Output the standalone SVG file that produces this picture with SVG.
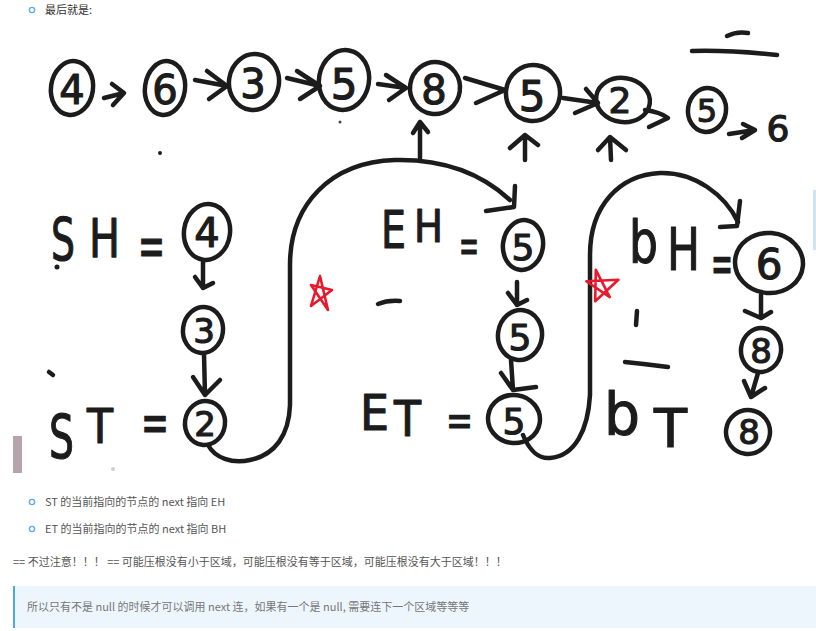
<svg xmlns="http://www.w3.org/2000/svg" width="816" height="631" viewBox="0 0 816 631">
<style>
.ui{font-family:"Noto Sans CJK SC","Noto Sans",sans-serif;font-size:11px}
.hw{font-family:"DejaVu Sans",sans-serif;fill:#1c1c1c;stroke:#1c1c1c;stroke-width:1.2;stroke-linejoin:round}
.dg{text-anchor:middle;dominant-baseline:central}
.ink{fill:none;stroke:#1c1c1c;stroke-width:4.5;stroke-linecap:round;stroke-linejoin:round}
.ring{fill:none;stroke:#1c1c1c;stroke-width:4.5}
.red{fill:none;stroke:#e8192c;stroke-width:2.6;stroke-linejoin:round;stroke-linecap:round}
.bul{fill:none;stroke:#5aabf0;stroke-width:1.4}
</style>
<rect width="816" height="631" fill="#ffffff"/>

<!-- top text -->
<circle class="bul" cx="32" cy="10" r="2.6"/>
<text class="ui" x="45" y="14" fill="#333">最后就是:</text>

<!-- top row -->
<g id="top-row">
  <g id="t4"><ellipse class="ring" cx="72" cy="88" rx="21" ry="27" transform="rotate(8 72 88)"/><text class="hw dg" x="72" y="90" font-size="40">4</text></g>
  <g id="t6"><ellipse class="ring" cx="165" cy="88" rx="20" ry="27" transform="rotate(8 165 88)"/><text class="hw dg" x="165" y="90" font-size="40">6</text></g>
  <g id="t3"><ellipse class="ring" cx="254" cy="82" rx="25" ry="28" transform="rotate(8 254 82)"/><text class="hw dg" x="253" y="84" font-size="40">3</text></g>
  <g id="t5a"><ellipse class="ring" cx="344" cy="80" rx="25" ry="30" transform="rotate(10 344 80)"/><text class="hw dg" x="344" y="84" font-size="42">5</text></g>
  <g id="t8"><ellipse class="ring" cx="435" cy="88" rx="25" ry="26" transform="rotate(8 435 88)"/><text class="hw dg" x="434" y="90" font-size="40">8</text></g>
  <g id="t5b"><ellipse class="ring" cx="533" cy="93" rx="27" ry="28" transform="rotate(8 533 93)"/><text class="hw dg" x="532" y="96" font-size="42">5</text></g>
  <g id="t2"><ellipse class="ring" cx="623" cy="100" rx="27" ry="22" transform="rotate(8 623 100)"/><text class="hw dg" x="620" y="100" font-size="36">2</text></g>
  <g id="t5c"><ellipse class="ring" cx="707" cy="110" rx="19" ry="22" transform="rotate(8 707 110)"/><text class="hw dg" x="707" y="111" font-size="32">5</text></g>
  <g id="t6b"><text class="hw dg" x="778" y="128" font-size="36">6</text></g>
  <path class="ink" d="M692,51 Q730,50 777,55"/>
  <path class="ink" d="M727,36 Q737,31 748,33"/>
</g>

<!-- middle nodes -->
<g id="SH">
  <text class="hw" x="51" y="260" font-size="58" textLength="24" lengthAdjust="spacingAndGlyphs">S</text>
  <text class="hw" x="89" y="257" font-size="53" textLength="31" lengthAdjust="spacingAndGlyphs">H</text>
  <text class="hw" x="138" y="266" font-size="58" textLength="27" lengthAdjust="spacingAndGlyphs">=</text>
  <circle cx="57" cy="267" r="2.5" fill="#1c1c1c"/>
</g>
<g id="n4"><ellipse class="ring" cx="207" cy="232" rx="23" ry="28" transform="rotate(8 207 232)"/><text class="hw dg" x="207" y="233" font-size="40">4</text></g>
<g id="n3"><ellipse class="ring" cx="203" cy="330" rx="20" ry="23" transform="rotate(8 203 330)"/><text class="hw dg" x="204" y="331" font-size="34">3</text></g>
<g id="n2"><ellipse class="ring" cx="205" cy="423" rx="20" ry="22" transform="rotate(8 205 423)"/><text class="hw dg" x="205" y="424" font-size="34">2</text></g>
<g id="ST">
  <text class="hw" x="49" y="458" font-size="60" textLength="25" lengthAdjust="spacingAndGlyphs">S</text>
  <text class="hw" x="87" y="443" font-size="48" textLength="26" lengthAdjust="spacingAndGlyphs">T</text>
  <text class="hw" x="141" y="442" font-size="55" textLength="28" lengthAdjust="spacingAndGlyphs">=</text>
</g>

<g id="EH">
  <text class="hw" x="381" y="248" font-size="52" textLength="25" lengthAdjust="spacingAndGlyphs">E</text>
  <text class="hw" x="414" y="242" font-size="45" textLength="29" lengthAdjust="spacingAndGlyphs">H</text>
  <text class="hw" x="459" y="262" font-size="48" textLength="20" lengthAdjust="spacingAndGlyphs">=</text>
</g>
<g id="e5a"><ellipse class="ring" cx="523" cy="245" rx="20" ry="25" transform="rotate(8 523 245)"/><text class="hw dg" x="523" y="247" font-size="36">5</text></g>
<g id="e5b"><ellipse class="ring" cx="520" cy="335" rx="22" ry="25" transform="rotate(8 520 335)"/><text class="hw dg" x="520" y="337" font-size="36">5</text></g>
<g id="e5c"><ellipse class="ring" cx="514" cy="419" rx="26" ry="24" transform="rotate(8 514 419)"/><text class="hw dg" x="514" y="421" font-size="36">5</text></g>
<g id="ET">
  <text class="hw" x="360" y="430" font-size="50" textLength="29" lengthAdjust="spacingAndGlyphs">E</text>
  <text class="hw" x="394" y="436" font-size="50" textLength="27" lengthAdjust="spacingAndGlyphs">T</text>
  <text class="hw" x="446" y="436" font-size="45" textLength="27" lengthAdjust="spacingAndGlyphs">=</text>
</g>

<g id="bH">
  <text class="hw" x="629" y="263" font-size="59" textLength="29" lengthAdjust="spacingAndGlyphs">b</text>
  <text class="hw" x="667" y="270" font-size="58" textLength="33" lengthAdjust="spacingAndGlyphs">H</text>
  <text class="hw" x="711" y="283" font-size="55" textLength="22" lengthAdjust="spacingAndGlyphs">=</text>
</g>
<g id="b6"><ellipse class="ring" cx="769" cy="263" rx="34" ry="30" transform="rotate(5 769 263)"/><text class="hw dg" x="769" y="264" font-size="42">6</text></g>
<g id="b8a"><ellipse class="ring" cx="761" cy="350" rx="20" ry="22" transform="rotate(8 761 350)"/><text class="hw dg" x="761" y="351" font-size="34">8</text></g>
<g id="b8b"><ellipse class="ring" cx="748" cy="432" rx="22" ry="22" transform="rotate(8 748 432)"/><text class="hw dg" x="749" y="432" font-size="34">8</text></g>
<g id="bT">
  <text class="hw" x="604" y="435" font-size="59" textLength="36" lengthAdjust="spacingAndGlyphs">b</text>
  <text class="hw" x="654" y="447" font-size="53" textLength="33" lengthAdjust="spacingAndGlyphs">T</text>
</g>

<!-- connectors -->
<g id="connectors">
  <path class="ink" d="M104,98 L124,93 M112,84 L124,93 L113,105"/>
  <path class="ink" d="M195,80 L227,86 M207,71 L227,86 L209,99"/>
  <path class="ink" d="M287,78 L320,86 M297,71 L320,86 L300,99"/>
  <path class="ink" d="M378,84 L406,88 M386,75 L406,88 L389,100"/>
  <path class="ink" d="M465,78 L505,90 M476,103 L505,90"/>
  <path class="ink" d="M563,98 L598,103 M575,113 L598,103 L586,89"/>
  <path class="ink" d="M645,110 Q660,112 668,118 L649,127"/>
  <path class="ink" d="M729,134 L755,130 M743,124 L755,130 L742,138"/>

  <path class="ink" d="M420,158 L420,122 M413,133 L420,122 L428,132"/>
  <path class="ink" d="M525,160 L525,135 M510,148 L525,135 L538,145"/>
  <path class="ink" d="M611,160 L610,137 M598,150 L610,137 L626,150"/>

  <path class="ink" d="M203,262 L203,288 M195,277 L203,288 L213,283"/>
  <path class="ink" d="M204,354 L205,395 M193,377 L205,395 L220,380"/>
  <path class="ink" d="M517,282 L517,305 M508,293 L517,305 L527,300"/>
  <path class="ink" d="M511,360 L513,390 M501,373 L513,390 L536,387"/>
  <path class="ink" d="M761,295 L761,317 M745,311 L761,318 L771,312"/>
  <path class="ink" d="M758,373 L751,397 M744,381 L751,397 L765,388"/>

  <path class="ink" d="M208,445 C215,458 232,464 250,460 C275,455 289,435 290,405 L290,265 C290,205 330,162 395,160 C440,159 480,172 510,200"/>
  <path class="ink" d="M486,211 L514,207 L515,186"/>
  <path class="ink" d="M523,435 C530,452 540,459 550,458 C575,456 588,430 590,395 L590,255 C590,205 620,175 660,173 C695,172 725,195 738,222"/>
  <path class="ink" d="M720,227 L737,226 L740,201"/>
</g>

<!-- stray marks -->
<path class="ink" d="M378,304 Q388,300 400,301"/>
<path class="ink" stroke-width="3.5" d="M637,311 L636,325"/>
<path class="ink" stroke-width="2.5" d="M625,362 Q645,364 668,367"/>
<path class="ink" stroke-width="2.5" d="M49,372 L53,375"/>
<circle cx="160" cy="153" r="2" fill="#1c1c1c"/>
<circle cx="340" cy="122" r="1.5" fill="#444"/>
<circle cx="113" cy="469" r="2" fill="#cfcfcf"/>
<rect x="13" y="436" width="9" height="37" fill="#b5a4ad"/>
<rect x="813" y="190" width="3" height="60" fill="#cfe3f5"/>

<!-- red stars -->
<path class="red" d="M320,276 L328,310 L311,285 L332,290 L311,306 Z"/>
<path class="red" d="M598,269 L608,298 L587,279 L619,282 L593,300 Z" transform="rotate(-8 603 285)"/>

<!-- bottom text -->
<circle class="bul" cx="32" cy="502" r="2.6"/>
<text class="ui" x="45" y="506" fill="#555">ST 的当前指向的节点的 next 指向 EH</text>
<circle class="bul" cx="32" cy="529" r="2.6"/>
<text class="ui" x="45" y="533" fill="#555">ET 的当前指向的节点的 next 指向 BH</text>
<text class="ui" x="13" y="566" fill="#555">== 不过注意！！！ == 可能压根没有小于区域，可能压根没有等于区域，可能压根没有大于区域！！！</text>
<rect x="13" y="586" width="803" height="42" fill="#edf6fd"/>
<rect x="13" y="586" width="2" height="42" fill="#4aa8f0"/>
<text class="ui" x="27" y="611" fill="#777">所以只有不是 null 的时候才可以调用 next 连，如果有一个是 null, 需要连下一个区域等等等</text>
</svg>
